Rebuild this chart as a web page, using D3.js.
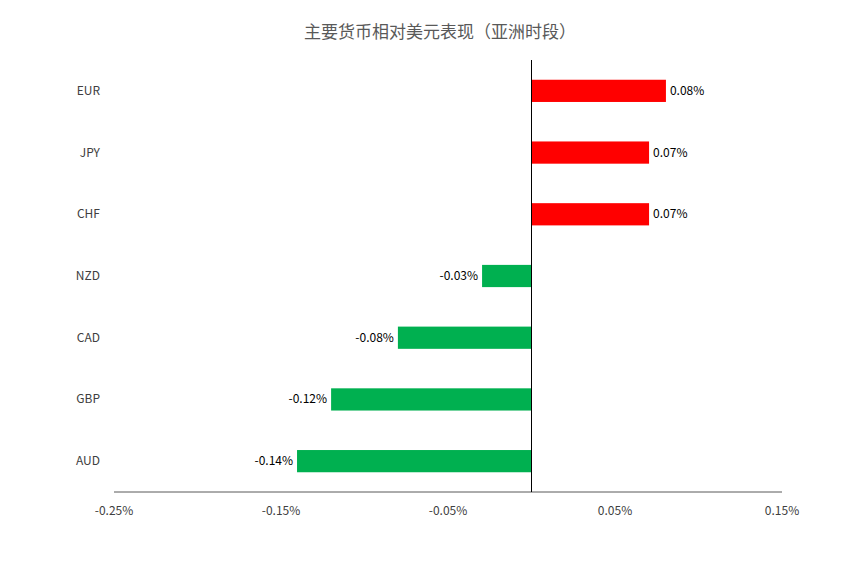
<!DOCTYPE html>
<html><head><meta charset="utf-8">
<script src="https://cdn.jsdelivr.net/npm/d3@7"></script>
<style>body{margin:0;background:#fff}</style></head>
<body><svg id="c" width="859" height="564"></svg>
<script>
const categories = ["EUR","JPY","CHF","NZD","CAD","GBP","AUD"];
const values = [0.0805,0.0704,0.0704,-0.0296,-0.080,-0.120,-0.1404];
const labels = ["0.08%","0.07%","0.07%","-0.03%","-0.08%","-0.12%","-0.14%"];
const tickValues = [-0.25,-0.15,-0.05,0.05,0.15];
const tickLabels = ["-0.25%","-0.15%","-0.05%","0.05%","0.15%"];
const title = "主要货币相对美元表现（亚洲时段）";

const svg = d3.select("#c");
const font = "'Microsoft YaHei','Noto Sans CJK SC','Liberation Sans',sans-serif";
const x = d3.scaleLinear().domain([-0.25,0.15]).range([114,782]);
const y = d3.scaleBand().domain(categories).range([60,492]).paddingInner(0.64).paddingOuter(0.32);

svg.append("text").attr("x",440).attr("y",38).attr("text-anchor","middle")
  .attr("font-family",font).attr("font-size",17).attr("fill","#595959").text(title);

svg.append("line").attr("x1",114).attr("x2",782).attr("y1",492).attr("y2",492).attr("stroke","#595959");

svg.selectAll("rect.b").data(values).enter().append("rect")
  .attr("x",d=>x(Math.min(0,d))).attr("width",d=>Math.abs(x(d)-x(0)))
  .attr("y",(d,i)=>y(categories[i])).attr("height",y.bandwidth())
  .attr("fill",d=>d>0?"#FF0000":"#00B050");

svg.append("line").attr("x1",x(0)).attr("x2",x(0)).attr("y1",60).attr("y2",492).attr("stroke","#000");

svg.selectAll("text.v").data(values).enter().append("text")
  .attr("x",d=>d>0?x(d)+4:x(d)-4).attr("text-anchor",d=>d>0?"start":"end")
  .attr("y",(d,i)=>y(categories[i])+y.bandwidth()/2+4)
  .attr("font-family",font).attr("font-size",12).attr("fill","#000").text((d,i)=>labels[i]);

svg.selectAll("text.c").data(categories).enter().append("text")
  .attr("x",100).attr("text-anchor","end").attr("y",d=>y(d)+y.bandwidth()/2+4)
  .attr("font-family",font).attr("font-size",12).attr("fill","#404040").text(d=>d);

svg.selectAll("text.t").data(tickValues).enter().append("text")
  .attr("x",d=>x(d)).attr("y",515).attr("text-anchor","middle")
  .attr("font-family",font).attr("font-size",12).attr("fill","#404040").text((d,i)=>tickLabels[i]);
</script></body></html>
